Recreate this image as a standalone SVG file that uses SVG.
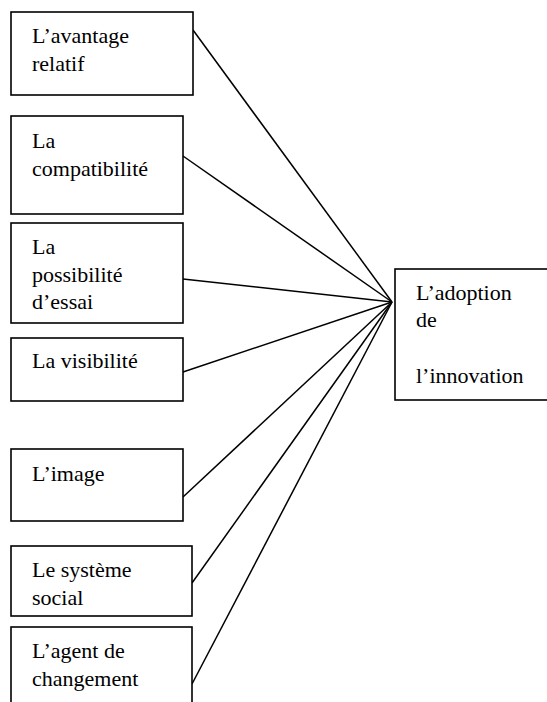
<svg xmlns="http://www.w3.org/2000/svg" width="547" height="702" viewBox="0 0 547 702">
  <style>
    .box { fill: #ffffff; stroke: #000000; stroke-width: 1.6; }
    .lbl { font-family: "Liberation Serif", "Times New Roman", serif; font-size: 22px; fill: #000000; }
    .link { stroke: #000000; stroke-width: 1.5; fill: none; }
  </style>
  <rect x="0" y="0" width="547" height="702" fill="#ffffff"/>

  <!-- connectors: every factor points to the adoption box -->
  <g id="connectors">
    <line class="link" x1="193" y1="30" x2="392" y2="302"/>
    <line class="link" x1="183" y1="156" x2="392" y2="302"/>
    <line class="link" x1="183" y1="279" x2="392" y2="302"/>
    <line class="link" x1="183" y1="372" x2="392" y2="302"/>
    <line class="link" x1="183" y1="497" x2="392" y2="302"/>
    <line class="link" x1="192" y1="583" x2="392" y2="302"/>
    <line class="link" x1="192" y1="684" x2="392" y2="302"/>
  </g>

  <g id="avantage-relatif">
    <rect class="box" x="11" y="12" width="182" height="83"/>
    <text class="lbl" x="32" y="43">L’avantage</text>
    <text class="lbl" x="32" y="71">relatif</text>
  </g>

  <g id="compatibilite">
    <rect class="box" x="11" y="116" width="172" height="98"/>
    <text class="lbl" x="32" y="148">La</text>
    <text class="lbl" x="32" y="176">compatibilité</text>
  </g>

  <g id="possibilite-essai">
    <rect class="box" x="11" y="223" width="172" height="100"/>
    <text class="lbl" x="32" y="254">La</text>
    <text class="lbl" x="32" y="282">possibilité</text>
    <text class="lbl" x="32" y="309">d’essai</text>
  </g>

  <g id="visibilite">
    <rect class="box" x="11" y="338" width="172" height="63"/>
    <text class="lbl" x="32" y="368">La visibilité</text>
  </g>

  <g id="image">
    <rect class="box" x="11" y="449" width="172" height="72"/>
    <text class="lbl" x="32" y="481">L’image</text>
  </g>

  <g id="systeme-social">
    <rect class="box" x="11" y="546" width="181" height="70"/>
    <text class="lbl" x="32" y="577">Le système</text>
    <text class="lbl" x="32" y="605">social</text>
  </g>

  <g id="agent-changement">
    <rect class="box" x="11" y="627" width="181" height="90"/>
    <text class="lbl" x="32" y="658">L’agent de</text>
    <text class="lbl" x="32" y="686">changement</text>
  </g>

  <g id="adoption-innovation">
    <rect class="box" x="395" y="269" width="170" height="131"/>
    <text class="lbl" x="416" y="300">L’adoption</text>
    <text class="lbl" x="416" y="327">de</text>
    <text class="lbl" x="416" y="383">l’innovation</text>
  </g>
</svg>
